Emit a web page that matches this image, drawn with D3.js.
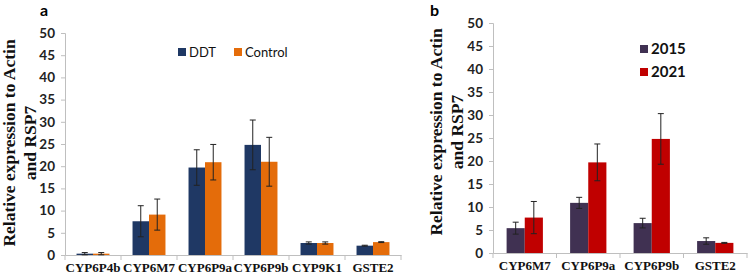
<!DOCTYPE html>
<html>
<head>
<meta charset="utf-8">
<script src="https://cdn.jsdelivr.net/npm/d3@7"></script>
<style>
  body { margin: 0; background: #fff; }
  svg { display: block; }
</style>
</head>
<body>
<script>
// panel a data
let genesA = ["CYP6P4b", "CYP6M7", "CYP6P9a", "CYP6P9b", "CYP9K1", "GSTE2"];
let seriesA = ["DDT", "Control"];
let ddt = [0.3, 7.6, 19.7, 24.8, 2.7, 2.1];
let ddtErr = [0.25, 3.5, 4.0, 5.6, 0.25, 0.1];
let control = [0.3, 9.1, 20.9, 21.0, 2.7, 2.9];
let controlErr = [0.25, 3.5, 4.0, 5.5, 0.25, 0.1];

// panel b data
let genesB = ["CYP6M7", "CYP6P9a", "CYP6P9b", "GSTE2"];
let seriesB = ["2015", "2021"];
let y2015 = [5.4, 10.9, 6.5, 2.6];
let y2015Err = [1.3, 1.2, 1.05, 0.7];
let y2021 = [7.7, 19.7, 24.8, 2.2];
let y2021Err = [3.5, 4.0, 5.5, 0.1];

let yTicks = [0, 5, 10, 15, 20, 25, 30, 35, 40, 45, 50];

let svg = d3.select("body").append("svg").attr("width", 749).attr("height", 275);

function panel(opt) {
  let x = d3.scaleBand().domain(opt.genes).range([opt.left, opt.right]);
  let inner = d3.scaleBand().domain(opt.series).range([0, x.bandwidth()]).paddingInner(0).paddingOuter(opt.pad);
  let y = d3.scaleLinear().domain([0, 50]).range([opt.bottom, opt.top]);

  let g = svg.append("g");

  // y axis
  let yAxis = g.append("g")
    .attr("transform", "translate(" + opt.left + ",0)")
    .call(d3.axisLeft(y).tickValues(yTicks).tickSize(4).tickPadding(6));
  yAxis.selectAll("path, line").attr("stroke", "#bfbfbf");
  yAxis.selectAll("text")
    .style("font-family", "Lato, 'Liberation Sans', sans-serif")
    .style("font-weight", "bold").style("font-size", "13.5px").attr("fill", "#222");

  // x axis
  let xAxis = g.append("g")
    .attr("transform", "translate(0," + opt.bottom + ")")
    .call(d3.axisBottom(x).tickSize(0).tickPadding(8));
  xAxis.select("path").attr("stroke", "#bfbfbf");
  xAxis.selectAll("text")
    .style("font-family", "'Liberation Serif', 'Times New Roman', serif")
    .style("font-weight", "bold").style("font-size", "13px").attr("fill", "#111");
  // category separators
  let edges = opt.genes.map((d) => x(d)).concat([opt.right]);
  g.selectAll(".sep").data(edges).enter().append("line")
    .attr("x1", (d) => d).attr("x2", (d) => d)
    .attr("y1", opt.bottom).attr("y2", opt.bottom + 5)
    .attr("stroke", "#bfbfbf");

  // bars + error bars
  opt.series.forEach((s, i) => {
    let vals = opt.values[i], errs = opt.errors[i];
    let grp = g.append("g");
    grp.selectAll("rect").data(opt.genes).enter().append("rect")
      .attr("x", (d) => x(d) + inner(s))
      .attr("y", (d, j) => y(vals[j]))
      .attr("width", inner.bandwidth())
      .attr("height", (d, j) => opt.bottom - y(vals[j]))
      .attr("fill", opt.colors[i]);
    let cx = (d) => x(d) + inner(s) + inner.bandwidth() / 2;
    let hi = (d, j) => y(vals[j] + errs[j]);
    let lo = (d, j) => y(Math.max(0, vals[j] - errs[j]));
    grp.selectAll(".err").data(opt.genes).enter().append("line")
      .attr("x1", cx).attr("x2", cx)
      .attr("y1", hi).attr("y2", lo)
      .attr("stroke", "#222").attr("stroke-width", 1);
    [hi, lo].forEach((f, k) => {
      grp.selectAll(".cap" + k).data(opt.genes).enter().append("line")
        .attr("x1", (d) => cx(d) - 3).attr("x2", (d) => cx(d) + 3)
        .attr("y1", f).attr("y2", f)
        .attr("stroke", "#222").attr("stroke-width", 1);
    });
  });

  // legend
  opt.series.forEach((s, i) => {
    let lx = opt.legend[i][0], ly = opt.legend[i][1];
    g.append("rect").attr("x", lx).attr("y", ly - 4).attr("width", 8).attr("height", 8).attr("fill", opt.colors[i]);
    g.append("text").attr("x", lx + 11).attr("y", ly + 5)
      .attr("font-family", "Lato, 'Liberation Sans', sans-serif")
      .attr("font-size", opt.legendSize).attr("font-weight", opt.legendWeight)
      .attr("fill", "#111").text(s);
  });

  // panel letter
  g.append("text").attr("x", opt.letter[0]).attr("y", opt.letter[1])
    .attr("font-family", "Lato, 'Liberation Sans', sans-serif")
    .attr("font-size", 16).attr("font-weight", "bold").text(opt.letterText);

  // y title
  let t = g.append("text")
    .attr("transform", "translate(" + opt.titleX + "," + opt.titleY + ") rotate(-90)")
    .attr("text-anchor", "middle")
    .attr("font-family", "'Liberation Serif', 'Times New Roman', serif")
    .attr("font-size", opt.titleSize).attr("font-weight", "bold").attr("fill", "#111");
  t.append("tspan").attr("x", 0).attr("dy", 0).text("Relative expression to Actin");
  t.append("tspan").attr("x", 0).attr("dy", opt.titleGap).text("and RSP7");
}

panel({
  genes: genesA, series: seriesA, values: [ddt, control], errors: [ddtErr, controlErr],
  colors: ["#1f3864", "#e46c0a"],
  left: 65, right: 401, top: 33, bottom: 255, pad: 0.7,
  legend: [[178, 52], [234, 52]], legendSize: 13, legendWeight: "normal",
  letter: [40, 16], letterText: "a",
  titleX: 15, titleY: 143, titleSize: 17.5, titleGap: 21
});

panel({
  genes: genesB, series: seriesB, values: [y2015, y2021], errors: [y2015Err, y2021Err],
  colors: ["#403152", "#c00000"],
  left: 493, right: 747, top: 23, bottom: 253, pad: 0.75,
  legend: [[640, 49], [640, 72]], legendSize: 15, legendWeight: "bold",
  letter: [430, 16], letterText: "b",
  titleX: 442, titleY: 132, titleSize: 17.5, titleGap: 21
});
</script>
</body>
</html>
